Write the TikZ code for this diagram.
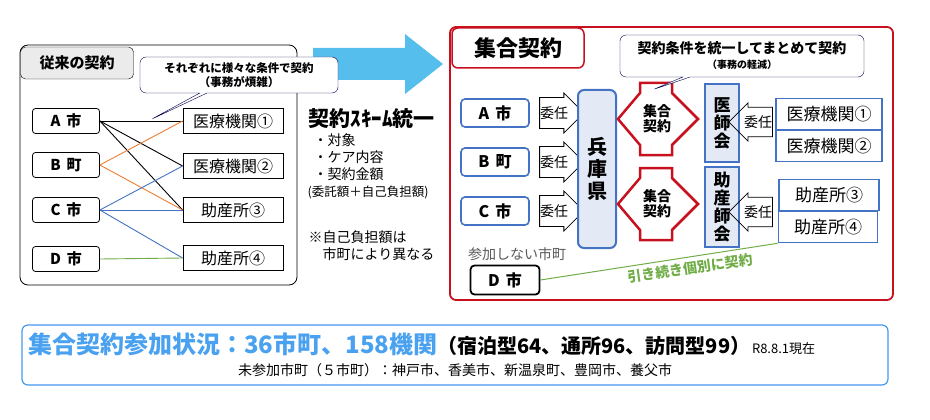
\documentclass[tikz,border=0pt]{standalone}
\usepackage{fontspec}
\setmainfont{Noto Sans CJK JP}
\usetikzlibrary{shapes.arrows,shapes.callouts,positioning}
\definecolor{boxblue}{RGB}{68,114,196}
\definecolor{skyblue}{RGB}{86,190,236}
\definecolor{darkred}{RGB}{200,16,30}
\definecolor{linegreen}{RGB}{112,173,71}
\definecolor{lineorange}{RGB}{237,125,49}
\tikzset{x=1pt,y=-1pt,
  city/.style = {draw,line width=0.8pt,rounded corners=3pt,minimum width=67pt,minimum height=25pt,font=\fontsize{15}{15}\selectfont\bfseries},
  inst/.style = {draw,line width=0.8pt,minimum width=100pt,minimum height=25pt,inner sep=1pt,font=\fontsize{16}{16}\selectfont},
  bcity/.style = {draw=boxblue,line width=1.6pt,rounded corners=4pt,minimum width=68pt,minimum height=28pt,font=\fontsize{16}{16}\selectfont\bfseries},
  binst/.style = {draw=boxblue,line width=1.6pt,minimum height=31pt,inner sep=1pt,font=\fontsize{17}{17}\selectfont},
  ninin/.style = {draw,single arrow,line width=0.8pt,minimum height=42pt,minimum width=40pt,single arrow head extend=2pt,inner sep=0pt,font=\fontsize{14}{14}\selectfont},
  assoc/.style = {draw=boxblue,line width=2pt,fill=boxblue!15,minimum width=34pt,align=center,font=\fontsize{17}{18}\selectfont\bfseries},
  note/.style = {rectangle callout,draw=black!70!blue,rounded corners=6pt,fill=white,align=center,inner sep=3pt}
}
\begin{document}
\begin{tikzpicture}
\useasboundingbox (0,0) rectangle (930,420);
% 矢印
\fill[skyblue] (313,48) -- (405,48) -- (405,34) -- (443,64) -- (405,94) -- (405,80) -- (313,80) -- cycle;
% 従来の契約
\draw[rounded corners=8pt,line width=0.8pt] (20,45) rectangle (297,285);
\node[draw,fill=black!8,rounded corners=5pt,minimum width=113pt,minimum height=32pt,font=\fontsize{15}{15}\selectfont\bfseries] (oldt) at (77,63) {従来の契約};
\node[city] (a) at (66,121) {A\, 市};
\node[city] (b) at (66,165) {B\, 町};
\node[city] (c) at (66,210) {C\, 市};
\node[city] (d) at (66,259) {D\, 市};
\node[inst] (i1) at (233,121) {医療機関①};
\node[inst] (i2) at (233,166) {医療機関②};
\node[inst] (i3) at (233,210) {助産所③};
\node[inst] (i4) at (233,258) {助産所④};
\draw[line width=0.9pt] (a.east) -- (i1.west);
\draw[line width=0.9pt] (a.east) -- (i2.west);
\draw[line width=0.9pt] (a.east) -- (i3.west);
\draw[lineorange,line width=0.9pt] (b.east) -- (i1.west);
\draw[lineorange,line width=0.9pt] (b.east) -- (i3.west);
\draw[boxblue,line width=0.9pt] (c.east) -- (i2.west);
\draw[boxblue,line width=0.9pt] (c.east) -- (i3.west);
\draw[boxblue,line width=0.9pt] (c.east) -- (i4.west);
\draw[linegreen,line width=0.9pt] (d.east) -- (i4.west);
\node[note,minimum width=198pt,minimum height=36pt,callout absolute pointer={(150,120)},font=\fontsize{11.5}{14}\selectfont\bfseries] (note1) at (239,75) {それぞれに様々な条件で契約\\（事務が煩雑）};
\node[anchor=west,font=\fontsize{21}{21}\selectfont\bfseries] (scheme) at (305,119) {契約ｽｷｰﾑ統一};
\node[anchor=north west,align=left,font=\fontsize{14}{17}\selectfont] (items) at (310,130) {・対象\\・ケア内容\\・契約金額};
\node[anchor=north west,font=\fontsize{12.5}{12.5}\selectfont] (futan) at (304,182) {(委託額＋自己負担額)};
\node[anchor=north west,align=left,font=\fontsize{14}{17}\selectfont] (kome) at (305,227) {※自己負担額は\\\quad 市町により異なる};
% 集合契約
\draw[darkred,line width=1.8pt,rounded corners=6pt] (450,27) rectangle (893,300);
\node[draw=darkred,line width=1.5pt,fill=white,rounded corners=6pt,minimum width=132pt,minimum height=40pt,font=\fontsize{22}{22}\selectfont\bfseries] (newt) at (518,48) {集合契約};
\node[bcity] (ba) at (495,113) {A\, 市};
\node[bcity] (bb) at (495,162) {B\, 町};
\node[bcity] (bc) at (495,211) {C\, 市};
\node[ninin] (n1) at (554,113) {委任};
\node[ninin] (n2) at (554,162) {委任};
\node[ninin] (n3) at (554,211) {委任};
\node[draw=boxblue,line width=2pt,fill=boxblue!15,rounded corners=6pt,minimum width=38pt,minimum height=158pt,align=center,font=\fontsize{20}{22}\selectfont\bfseries] (hyogo) at (597,169) {兵\\庫\\県};
\foreach \y/\n in {119/u,204/l}{
  \draw[darkred,line width=2.5pt,fill=white,line join=miter] (640,\y-36) -- (672,\y-36) -- (672,\y-26) -- (698,\y) -- (672,\y+26) -- (672,\y+36) -- (640,\y+36) -- (640,\y+26) -- (618,\y) -- (640,\y-26) -- cycle;
  \node[align=center,font=\fontsize{14}{15}\selectfont\bfseries] (dbl\n) at (657,\y) {集合\\契約};
}
\node[assoc,minimum height=78pt] (ishi) at (722,123) {医\\師\\会};
\node[assoc,minimum height=80pt] (josan) at (722,207) {助\\産\\師\\会};
\node[ninin,shape border rotate=180,minimum height=34pt,minimum width=38pt] (n4) at (758,122) {委任};
\node[ninin,shape border rotate=180,minimum height=34pt,minimum width=38pt] (n5) at (758,212) {委任};
\node[binst,minimum width=106pt] (bi1) at (829,114) {医療機関①};
\node[binst,minimum width=106pt] (bi2) at (829,146) {医療機関②};
\node[binst,minimum width=100pt] (bi3) at (829,195) {助産所③};
\node[binst,minimum width=99pt] (bi4) at (828,227) {助産所④};
\node[text=black!65,font=\fontsize{14}{14}\selectfont] (nonpart) at (517,254) {参加しない市町};
\node[draw,line width=1.8pt,rounded corners=4pt,minimum width=69pt,minimum height=29pt,font=\fontsize{16}{16}\selectfont\bfseries] (bd) at (505,280) {D\, 市};
\draw[linegreen,line width=1pt] (bd.east) -- (bi4.south west);
\node[text=linegreen,rotate=8,font=\fontsize{14}{14}\selectfont\bfseries] (kobetsu) at (690,268) {引き続き個別に契約};
\node[note,minimum width=244pt,minimum height=42pt,callout absolute pointer={(652,90)},font=\fontsize{14}{15}\selectfont\bfseries] (note2) at (742,56) {契約条件を統一してまとめて契約\\{\fontsize{10}{12}\selectfont（事務の軽減）}};
% 参加状況
\draw[skyblue!80!blue,line width=1.2pt,rounded corners=6pt] (22,325) rectangle (888,385);
\node[anchor=west,inner sep=0pt] (status) at (28,344) {{\color{skyblue!85!blue}\fontsize{24}{24}\selectfont\bfseries 集合契約参加状況：36市町、158機関}{\fontsize{20}{20}\selectfont\bfseries（宿泊型64、通所96、訪問型99）}\,{\fontsize{13}{13}\selectfont R8.8.1現在}};
\node[font=\fontsize{14}{14}\selectfont] (unpart) at (455,370) {未参加市町（５市町）：神戸市、香美市、新温泉町、豊岡市、養父市};
\end{tikzpicture}
\end{document}
